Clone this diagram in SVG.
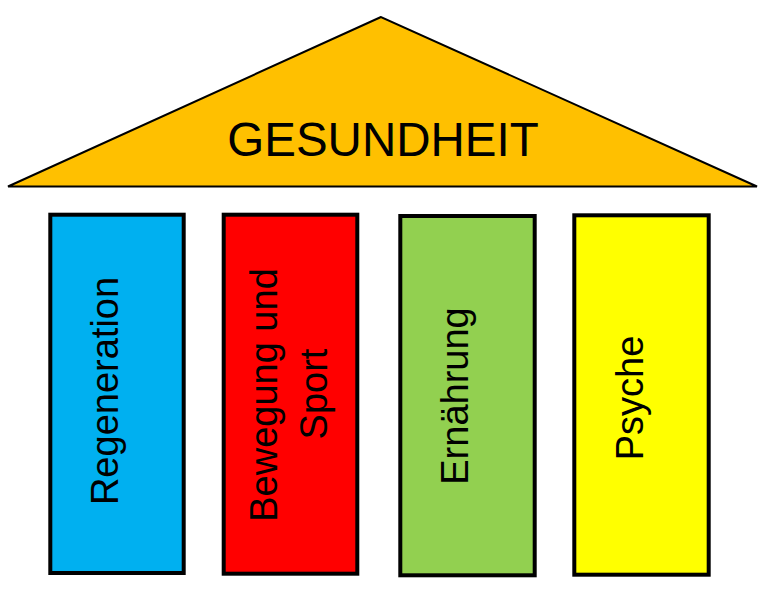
<svg xmlns="http://www.w3.org/2000/svg" width="773" height="591" viewBox="0 0 773 591">
<style>
.pillar{stroke:#000;stroke-width:4}
.lbl{font-family:"Liberation Sans",Arial,sans-serif;font-size:38px;fill:#000;text-anchor:middle}
</style>
<rect width="773" height="591" fill="#fff"/>
<g id="roof">
<polygon points="381,17 8,186.5 757,186.5" fill="#FFC000" stroke="#000" stroke-width="2" stroke-linejoin="miter"/>
<text x="383" y="156" style="font-family:'Liberation Sans',Arial,sans-serif;font-size:47.5px;text-anchor:middle">GESUNDHEIT</text>
</g>
<g id="regeneration">
<rect class="pillar" x="50.3" y="214.7" width="133.4" height="358.3" fill="#00B0F0"/>
<text class="lbl" transform="translate(117.5,391) rotate(-90)">Regeneration</text>
</g>
<g id="bewegung">
<rect class="pillar" x="223.7" y="214.7" width="133.6" height="359" fill="#FF0000"/>
<text class="lbl" transform="translate(277,395) rotate(-90)">Bewegung und</text>
<text class="lbl" transform="translate(327,394) rotate(-90)">Sport</text>
</g>
<g id="ernaehrung">
<rect class="pillar" x="400.3" y="216" width="134.4" height="359.3" fill="#92D050"/>
<text class="lbl" transform="translate(468,396) rotate(-90)">Ernährung</text>
</g>
<g id="psyche">
<rect class="pillar" x="574.3" y="215.3" width="134.4" height="359.4" fill="#FFFF00"/>
<text class="lbl" transform="translate(643,398) rotate(-90)">Psyche</text>
</g>
<g id="connectors"></g>
</svg>
